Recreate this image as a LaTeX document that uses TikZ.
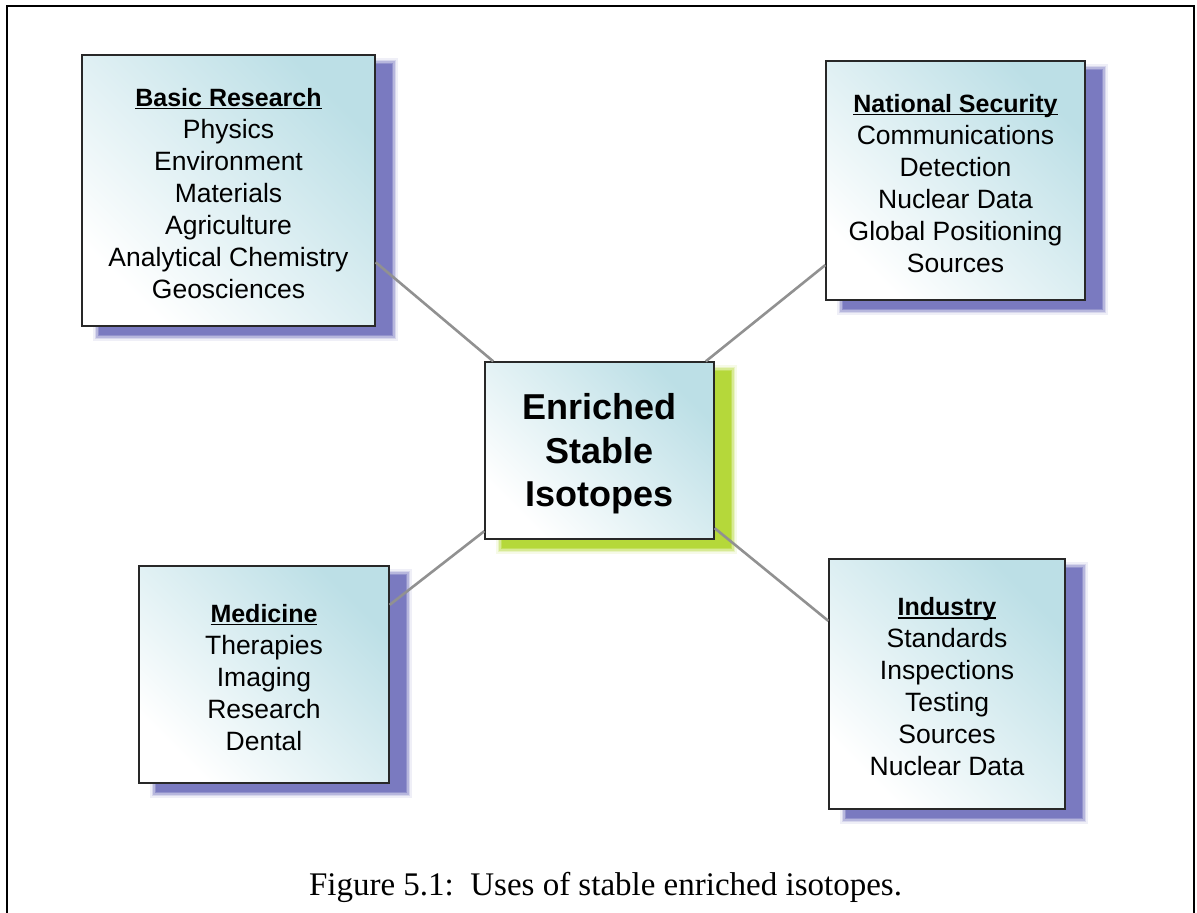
\documentclass[tikz,border=0pt]{standalone}
\usepackage{fontspec}
\setmainfont{Liberation Sans}
\newfontfamily\capfont{Liberation Serif}
\usetikzlibrary{backgrounds}
\definecolor{boxtop}{RGB}{188,223,230}
\definecolor{shblue}{RGB}{122,122,192}
\definecolor{shgreen}{RGB}{181,216,58}
\definecolor{linkgray}{RGB}{145,145,145}
\definecolor{edgegray}{RGB}{40,40,40}
\newcommand{\hdul}[1]{\rule{0pt}{24pt}\setbox0\hbox{\bfseries\fontsize{25}{32}\selectfont #1}\rlap{\rule[-3pt]{\wd0}{1.5pt}}\box0}
\frenchspacing
\tikzset{
  isobox/.style={draw=edgegray, line width=1.3pt, shading=axis, bottom color=white,
    middle color=boxtop!35!white, top color=boxtop, shading angle=-45, align=center, inner sep=0pt,
    font=\fontsize{26.5}{32}\selectfont},
  link/.style={draw=linkgray, line width=2.6pt},
  frame/.style={draw=black, line width=2.2pt}
}
\begin{document}
\begin{tikzpicture}[x=1pt,y=-1pt]
\useasboundingbox (0,0) rectangle (1197,913);
% outer frame
\coordinate (fbl) at (7,913);
\coordinate (ftl) at (7,6);
\coordinate (ftr) at (1194,6);
\coordinate (fbr) at (1194,913);
\draw[frame] (fbl) -- (ftl) -- (ftr) -- (fbr);
% boxes
\node[isobox, minimum width=293pt, minimum height=271pt] (basic) at (228.5,190.5)
  {\hdul{Basic Research}\\Physics\\Environment\\Materials\\Agriculture\\Analytical Chemistry\\Geosciences};
\node[isobox, minimum width=259pt, minimum height=239pt] (natsec) at (955.5,180.5)
  {\hdul{National Security}\\Communications\\Detection\\Nuclear Data\\Global Positioning\\Sources};
\node[isobox, minimum width=229pt, minimum height=177pt, font=\bfseries\fontsize{36}{43.5}\selectfont] (cbox) at (599.5,450.5)
  {\rule{0pt}{33pt}Enriched\\Stable\\Isotopes};
\node[isobox, minimum width=250pt, minimum height=217pt] (med) at (264,674.5)
  {\hdul{Medicine}\\Therapies\\Imaging\\Research\\Dental};
\node[isobox, minimum width=236pt, minimum height=250pt] (ind) at (947,684)
  {\hdul{Industry}\\Standards\\Inspections\\Testing\\Sources\\Nuclear Data};
% shadows
\begin{scope}[on background layer]
\foreach \n/\c in {basic/shblue, natsec/shblue, cbox/shgreen, med/shblue, ind/shblue}{
  \foreach \k/\o in {5/0.12,3.5/0.2,2/0.35,0.5/0.6,-1/1}{
    \fill[\c, opacity=\o] ([shift={(17-\k,9-\k)}]\n.north west) rectangle ([shift={(17+\k,9+\k)}]\n.south east);
  }
}
\end{scope}
% connectors
\draw[link] (basic.-26) -- (cbox.140);
\draw[link] (natsec.213) -- (cbox.40.5);
\draw[link] (med.29.6) -- (cbox.215.6);
\draw[link] (ind.152.5) -- (cbox.-34.8);
% caption
\node[font=\capfont\fontsize{33}{40}\selectfont, anchor=base, inner sep=0pt] (cap) at (605.5,895)
  {Figure 5.1:\ \ Uses of stable enriched isotopes.};
\end{tikzpicture}
\end{document}
